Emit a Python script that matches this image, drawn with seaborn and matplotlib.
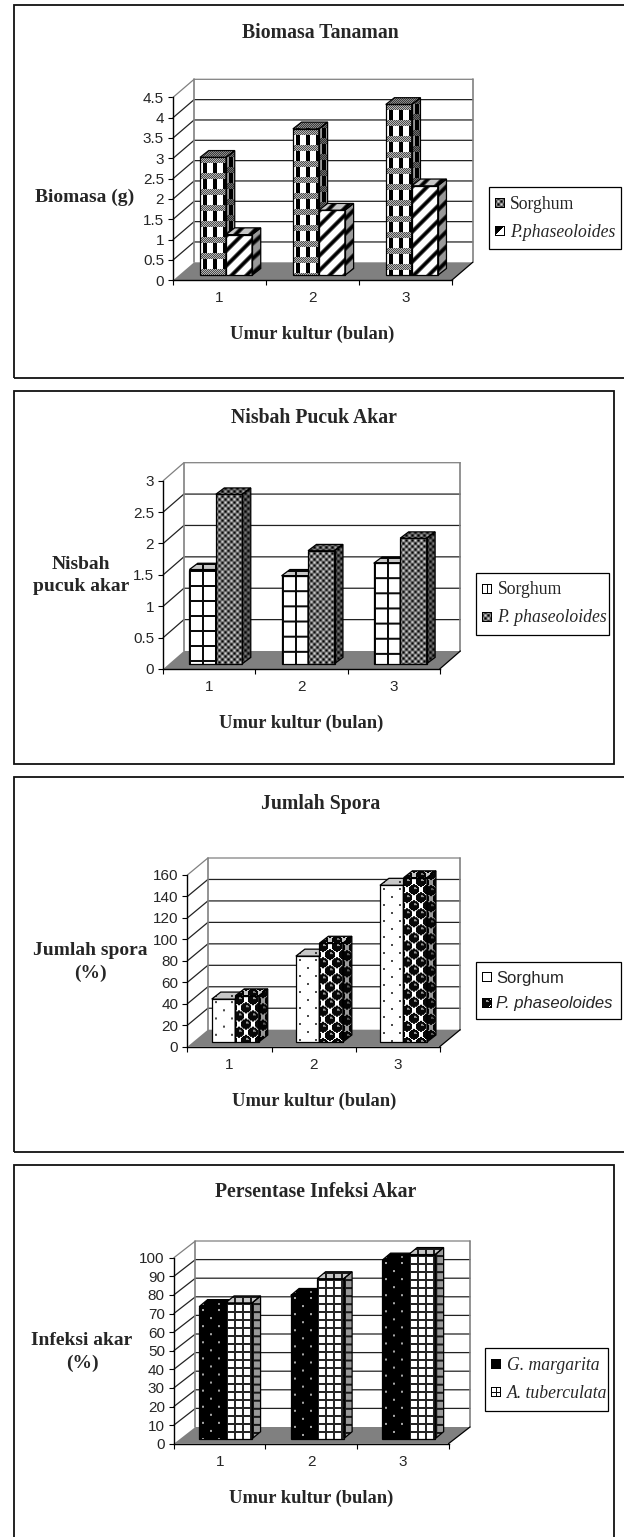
import numpy as np
import pandas as pd
import matplotlib
matplotlib.use('Agg')
import matplotlib.pyplot as plt
from matplotlib.patches import Polygon, Rectangle, Patch
import seaborn as sns

# Values
umur = ['1', '2', '3']

biomasa_sorghum = [2.9, 3.6, 4.2]
biomasa_puero = [1.0, 1.6, 2.2]

nisbah_sorghum = [1.5, 1.4, 1.6]
nisbah_puero = [2.7, 1.8, 2.0]

spora_sorghum = [40, 80, 146]
spora_puero = [43, 92, 153]

infeksi_gigaspora = [71, 77, 96]
infeksi_acaulospora = [73, 86, 99]

W, H = 624, 1537

sns.set_style('white')
plt.rcParams['font.family'] = ['Liberation Serif', 'DejaVu Serif']


# Pattern tiles, one cell is one pixel (0 black, 1 white)
def tile_band():
    t = np.ones((16, 10))
    t[6:, 3:7] = 0.0
    y, x = np.mgrid[:6, :10]
    t[:6, :] = np.where((x + y) % 2 == 0, 0.3, 0.72)
    return t


def tile_diagonal():
    y, x = np.mgrid[:15, :15]
    r = (x + y) % 15
    d = np.minimum(r, 15 - r)
    return np.clip((d - 1.5) / 2.5, 0, 1)


def tile_grid(w, h, line, dark=0.05):
    t = np.ones((h, w))
    t[:line, :] = dark
    t[:, :line] = dark
    return t


def tile_checker():
    y, x = np.mgrid[:6, :6]
    return 0.42 + 0.42 * np.cos(2 * np.pi * x / 6) * np.cos(2 * np.pi * y / 6)


def tile_dots(base, dot, w=16, h=16):
    t = np.full((h, w), base)
    t[3:5, 3:5] = dot
    t[3 + h // 2:5 + h // 2, 3 + w // 2:5 + w // 2] = dot
    return t


def tile_balls():
    y, x = np.mgrid[:16, :14]
    t = np.ones((16, 14))
    # balls and their copies over the tile edge
    for cx, cy in [(3.5, 4), (10.5, 12), (10.5, -4), (-3.5, 12), (17.5, 4), (3.5, 20)]:
        t = np.where(np.hypot(x - cx, y - cy) < 5.2, 0.03, t)
    for cx, cy in [(3.5, 4), (10.5, 12)]:
        t = np.where(np.hypot(x - cx - 1.3, y - cy + 1.3) < 1.3, 0.6, t)
    return t


def draw_face(ax, clip, xy, tile, sx, sy, z):
    x0, x1 = xy[:, 0].min(), xy[:, 0].max()
    y0, y1 = xy[:, 1].min(), xy[:, 1].max()
    cols = int(np.ceil((x1 - x0) / sx))
    rows = int(np.ceil((y1 - y0) / sy))
    reps = (rows // tile.shape[0] + 1, cols // tile.shape[1] + 1)
    arr = np.tile(tile, reps)[:rows, :cols]
    im = ax.imshow(arr, extent=(x0, x0 + cols * sx, y1 - rows * sy, y1), origin='upper',
                   aspect='auto', cmap='gray', vmin=0, vmax=1, interpolation='bilinear', zorder=z)
    im.set_clip_path(clip)
    im.set_clip_box(ax.figure.bbox)


def fig_xy(x, y):
    return x / W, 1 - y / H


def draw_chart(fig, c):
    x0, x1, y0, yt = c['front']
    ymax = c['ticks'][-1]
    ax = fig.add_axes([x0 / W, 1 - y0 / H, (x1 - x0) / W, (y0 - yt) / H])
    ax.patch.set_visible(False)

    # data per pixel
    sx = 3.0 / (x1 - x0)
    sy = ymax / (y0 - yt)

    df = pd.DataFrame({'umur': umur * 2,
                       'nilai': list(c['a']) + list(c['b']),
                       'seri': [c['names'][0]] * 3 + [c['names'][1]] * 3})
    group = 2 * c['bar_w'] / ((x1 - x0) / 3.0)
    sns.barplot(data=df, x='umur', y='nilai', hue='seri', ax=ax, width=group, gap=0, dodge=True,
                palette=['white', 'white'], saturation=1, legend=False, errorbar=None)

    # wall and floor of the 3D box
    wx, wy = c['wall'][0] * sx, c['wall'][1] * sy
    ax.add_patch(Polygon([(-0.5, 0), (2.5, 0), (2.5 + wx, wy), (-0.5 + wx, wy)], closed=True,
                         facecolor='#808080', edgecolor='none', clip_on=False, zorder=1.5))
    for v in c['ticks'][1:]:
        ax.plot([-0.5, -0.5 + wx, 2.5 + wx], [v, v + wy, v + wy], color='#222222' if v < ymax else '#808080',
                lw=0.9, clip_on=False, zorder=1, snap=False)
    ax.plot([-0.5 + wx, -0.5 + wx], [wy, ymax + wy], color='#808080', lw=1.2, clip_on=False, zorder=1.2)
    ax.plot([2.5 + wx, 2.5 + wx], [wy, ymax + wy], color='#808080', lw=1.2, clip_on=False, zorder=1.2)
    ax.plot([2.5, 2.5 + wx], [0, wy], color='black', lw=0.9, clip_on=False, zorder=1.6)

    # bars from seaborn, moved into the box and given their sides
    ox, oy = c['offset'][0] * sx, c['offset'][1] * sy
    dx, dy = c['depth'][0] * sx, c['depth'][1] * sy
    for s, cont in enumerate(ax.containers):
        tile = c['tiles'][s]
        for i, bar in enumerate(cont.patches):
            z = 3 + i * 2 + s
            bx, bw, bh = bar.get_x() + ox, bar.get_width(), bar.get_height()
            by = oy
            bar.set_x(bx)
            bar.set_y(by)
            bar.set_facecolor('none')
            bar.set_edgecolor('black')
            bar.set_linewidth(0.9)
            bar.set_clip_on(False)
            bar.set_zorder(z + 0.3)

            front = np.array([(bx, by), (bx + bw, by), (bx + bw, by + bh), (bx, by + bh)])
            draw_face(ax, bar, front, tile, sx, sy, z + 0.1)

            side = np.array([(bx + bw, by), (bx + bw + dx, by + dy), (bx + bw + dx, by + bh + dy), (bx + bw, by + bh)])
            top = np.array([(bx, by + bh), (bx + bw, by + bh), (bx + bw + dx, by + bh + dy), (bx + dx, by + bh + dy)])
            for xy, shade in [(side, 0.6), (top, 0.78)]:
                p = Polygon(xy, closed=True, facecolor='none', edgecolor='black', lw=0.9,
                            clip_on=False, zorder=z + 0.2)
                ax.add_patch(p)
                draw_face(ax, p, xy, tile * shade, sx, sy, z)

    ax.set_xlim(-0.5, 2.5)
    ax.set_ylim(0, ymax)

    # axes
    for name in ['top', 'right']:
        ax.spines[name].set_visible(False)
    for name in ['left', 'bottom']:
        ax.spines[name].set_color('black')
        ax.spines[name].set_linewidth(1.0)
    ax.set_xlabel('')
    ax.set_ylabel('')
    ax.set_yticks(c['ticks'], [f'{v:g}' for v in c['ticks']], family=['Liberation Sans'], fontsize=11)
    ax.set_xticks([0, 1, 2], umur, family=['Liberation Sans'], fontsize=11)
    ax.set_xticks([-0.5, 0.5, 1.5, 2.5], minor=True)
    ax.tick_params(axis='y', left=True, length=3.5, width=0.8, pad=3, color='black')
    ax.tick_params(axis='x', which='major', bottom=False, length=0, pad=8)
    ax.tick_params(axis='x', which='minor', bottom=True, length=3.5, width=0.8, color='black')

    # texts
    tx, ty = fig_xy(*c['title'])
    fig.text(tx, ty, c['title_text'], ha='center', va='center', fontsize=14.2, fontweight='bold')
    tx, ty = fig_xy(*c['xlab'])
    fig.text(tx, ty, 'Umur kultur (bulan)', ha='center', va='center', fontsize=13.3, fontweight='bold')
    tx, ty = fig_xy(*c['ylab'])
    fig.text(tx, ty, c['ylab_text'], ha='center', va='center', fontsize=14, fontweight='bold',
             linespacing=1.4)

    # legend, the swatches go on top once the layout is known
    lx0, ly0, lx1, ly1 = c['legend']
    handles = [Patch(facecolor='none', edgecolor='none', label=n) for n in c['names']]
    leg = ax.legend(handles=handles, loc='center', bbox_to_anchor=(lx0 / W, 1 - ly1 / H, (lx1 - lx0) / W, (ly1 - ly0) / H),
                    bbox_transform=fig.transFigure, mode='expand', frameon=True, fancybox=False, framealpha=1,
                    edgecolor='black', borderaxespad=0, borderpad=0.5, labelspacing=0.62,
                    handlelength=0.6, handleheight=0.6, handletextpad=0.12,
                    prop={'family': c['legend_font'], 'size': c['legend_fs']})
    leg.get_frame().set_linewidth(0.9)
    leg.set_zorder(50)
    for txt, ital in zip(leg.get_texts(), c['italic']):
        txt.set_fontstyle('italic' if ital else 'normal')
    c['_leg'] = leg


charts = [
    dict(front=(173.1, 451.7, 280.3, 97.3), ticks=[0, 0.5, 1, 1.5, 2, 2.5, 3, 3.5, 4, 4.5], wall=(21, 18),
         a=biomasa_sorghum, b=biomasa_puero, names=['Sorghum', 'P.phaseoloides'], italic=[False, True],
         bar_w=26, offset=(6.5, 5), depth=(8.7, 6.8), tiles=[tile_band(), tile_diagonal()],
         swatches=[tile_checker(), 'half'], title_text='Biomasa Tanaman', title=(320.3, 32.7), xlab=(312.4, 334),
         ylab_text='Biomasa (g)', ylab=(84.4, 197.3), legend=(488.6, 190.7, 620.8, 245.7),
         legend_font='Liberation Serif', legend_fs=12.7),
    dict(front=(163.2, 439.7, 669, 480.7), ticks=[0, 0.5, 1, 1.5, 2, 2.5, 3], wall=(20.7, 18),
         a=nisbah_sorghum, b=nisbah_puero, names=['Sorghum', 'P. phaseoloides'], italic=[False, True],
         bar_w=26.5, offset=(6.6, 5.3), depth=(8.4, 6.3), tiles=[tile_grid(13, 15, 2), tile_checker()],
         swatches=[tile_grid(5, 10, 1), tile_checker()], title_text='Nisbah Pucuk Akar', title=(314.4, 418.3),
         xlab=(301.2, 723.3), ylab_text='Nisbah\npucuk akar', ylab=(81, 575.5), legend=(476, 576.3, 609, 631.3),
         legend_font='Liberation Serif', legend_fs=12.7),
    dict(front=(187.4, 439.7, 1046.7, 875), ticks=[0, 20, 40, 60, 80, 100, 120, 140, 160], wall=(20.5, 17),
         a=spora_sorghum, b=spora_puero, names=['Sorghum', 'P. phaseoloides'], italic=[False, True],
         bar_w=23.5, offset=(5.8, 4.7), depth=(9, 7), tiles=[tile_dots(1.0, 0.3), tile_balls()],
         swatches=[np.ones((10, 10)), tile_balls()], title_text='Jumlah Spora', title=(320.3, 804.3),
         xlab=(314.4, 1101), ylab_text='Jumlah spora\n(%)', ylab=(90, 961.8), legend=(476, 963.3, 621, 1018.3),
         legend_font='Liberation Sans', legend_fs=12),
    dict(front=(173.9, 448.5, 1443.7, 1257.7), ticks=[0, 10, 20, 30, 40, 50, 60, 70, 80, 90, 100], wall=(21.5, 16.7),
         a=infeksi_gigaspora, b=infeksi_acaulospora, names=['G. margarita', 'A. tuberculata'], italic=[True, True],
         bar_w=26.5, offset=(6, 5), depth=(8.4, 7), tiles=[tile_dots(0.0, 0.65), tile_grid(8, 8, 2, 0.15)],
         swatches=[np.zeros((10, 10)), tile_grid(5, 5, 1)], title_text='Persentase Infeksi Akar', title=(315.6, 1191.7),
         xlab=(311.6, 1498.3), ylab_text='Infeksi akar\n(%)', ylab=(82, 1352), legend=(485, 1351.7, 608.4, 1407.3),
         legend_font='Liberation Serif', legend_fs=12.7),
]

fig = plt.figure(figsize=(W / 100, H / 100), dpi=100, facecolor='white')

# outer frames of the four panels, right side or bottom left open where the page cuts them
frames = [(14, 5, 640, 378), (14, 390.7, 613.6, 764), (14, 777, 640, 1151.7), (14, 1165.3, 613.6, 1560)]
for fx0, fy0, fx1, fy1 in frames:
    fig.add_artist(Rectangle((fx0 / W, 1 - fy1 / H), (fx1 - fx0) / W, (fy1 - fy0) / H, transform=fig.transFigure,
                             facecolor='none', edgecolor='#111111', lw=1.3))

for c in charts:
    draw_chart(fig, c)

fig.canvas.draw()
renderer = fig.canvas.get_renderer()
for c in charts:
    for h, sw in zip(c['_leg'].legend_handles, c['swatches']):
        if isinstance(sw, str):
            y, x = np.mgrid[:10, :10]
            sw = np.where(x + y < 9, 0.0, 1.0)
        box = h.get_window_extent(renderer)
        arr = np.tile(sw, (3, 3))[:10, :10].copy()
        arr[0, :] = arr[-1, :] = 0
        arr[:, 0] = arr[:, -1] = 0
        cy = (box.y0 + box.y1) / 2
        fig.figimage(arr, xo=int(box.x0) - 2, yo=int(cy - 5), origin='upper', cmap='gray', vmin=0, vmax=1, zorder=60)

fig.savefig('out.png', dpi=100)
